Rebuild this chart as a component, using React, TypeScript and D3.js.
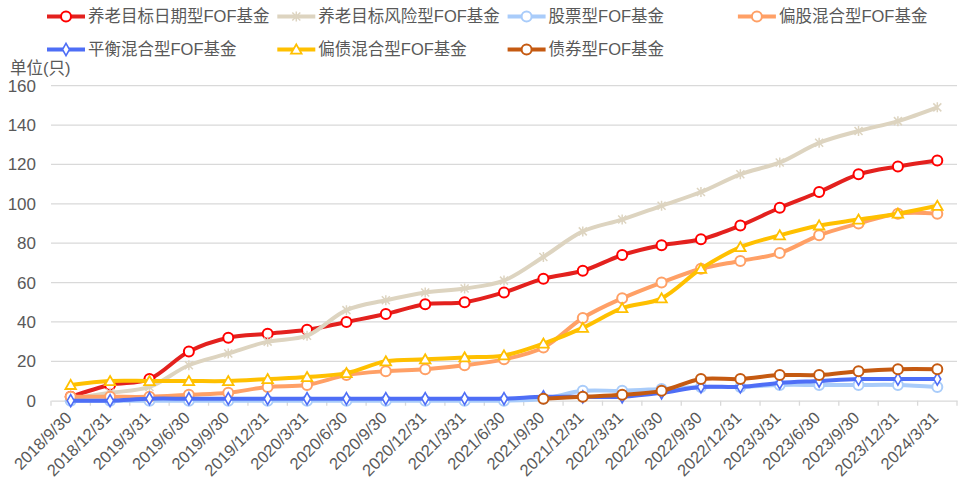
import React, { useEffect, useRef } from "react";
import * as d3 from "d3";

// quarter ends
const dates = [
  "2018/9/30", "2018/12/31", "2019/3/31", "2019/6/30", "2019/9/30", "2019/12/31",
  "2020/3/31", "2020/6/30", "2020/9/30", "2020/12/31", "2021/3/31", "2021/6/30",
  "2021/9/30", "2021/12/31", "2022/3/31", "2022/6/30", "2022/9/30", "2022/12/31",
  "2023/3/31", "2023/6/30", "2023/9/30", "2023/12/31", "2024/3/31",
];

const targetDate = [2, 8, 11, 25, 32, 34, 36, 40, 44, 49, 50, 55, 62, 66, 74, 79, 82, 89, 98, 106, 115, 119, 122];
const targetRisk = [1, 4, 7, 18, 24, 30, 33, 46, 51, 55, 57, 61, 73, 86, 92, 99, 106, 115, 121, 131, 137, 142, 149];
const stockFof = [0, 0, 0, 0, 0, 0, 0, 0, 0, 0, 0, 0, 1, 5, 5, 6, 7, 7, 8, 8, 8, 8, 7];
const equityMixed = [2, 2, 2, 3, 4, 7, 8, 13, 15, 16, 18, 21, 27, 42, 52, 60, 67, 71, 75, 84, 90, 95, 95];
const balancedMixed = [0, 0, 1, 1, 1, 1, 1, 1, 1, 1, 1, 1, 2, 2, 2, 4, 7, 7, 9, 10, 11, 11, 11];
const bondMixed = [8, 10, 10, 10, 10, 11, 12, 14, 20, 21, 22, 23, 29, 37, 47, 52, 67, 78, 84, 89, 92, 95, 99];
const bondFof = [null, null, null, null, null, null, null, null, null, null, null, null, 1, 2, 3, 5, 11, 11, 13, 13, 15, 16, 16];

const yTicks = [0, 20, 40, 60, 80, 100, 120, 140, 160];

const series = [
  { name: "养老目标日期型FOF基金", values: targetDate, color: "#E3211E", mark: "#FF0000", shape: "circle" },
  { name: "养老目标风险型FOF基金", values: targetRisk, color: "#DDD4C0", mark: "#DDD4C0", shape: "star" },
  { name: "股票型FOF基金", values: stockFof, color: "#A9CCFA", mark: "#A9CCFA", shape: "circle" },
  { name: "偏股混合型FOF基金", values: equityMixed, color: "#FFA066", mark: "#FFA066", shape: "circle" },
  { name: "平衡混合型FOF基金", values: balancedMixed, color: "#4E6EF6", mark: "#4E6EF6", shape: "diamond" },
  { name: "偏债混合型FOF基金", values: bondMixed, color: "#FFC000", mark: "#FFC000", shape: "triangle" },
  { name: "债券型FOF基金", values: bondFof, color: "#C55A11", mark: "#C55A11", shape: "circle" },
];

const FONT = "'Liberation Sans', Arial, 'Noto Sans CJK SC', sans-serif";

const drawMarker = (g, shape, x, y, color) => {
  if (shape === "circle") {
    g.append("circle").attr("cx", x).attr("cy", y).attr("r", 5)
      .attr("fill", "#fff").attr("stroke", color).attr("stroke-width", 2);
  } else if (shape === "star") {
    g.append("path")
      .attr("d", "M-4,-4L4,4M-4,4L4,-4M0,-5L0,5")
      .attr("transform", `translate(${x},${y})`)
      .attr("fill", "none").attr("stroke", color).attr("stroke-width", 1.5);
  } else if (shape === "diamond") {
    g.append("path")
      .attr("d", d3.symbol(d3.symbolDiamond, 42)())
      .attr("transform", `translate(${x},${y})`)
      .attr("fill", "#fff").attr("stroke", color).attr("stroke-width", 1.6);
  } else if (shape === "triangle") {
    g.append("path")
      .attr("d", d3.symbol(d3.symbolTriangle, 48)())
      .attr("transform", `translate(${x},${y + 1})`)
      .attr("fill", "#fff").attr("stroke", color).attr("stroke-width", 1.8);
  }
};

const App = () => {
  const svgRef = useRef(null);

  useEffect(() => {
    const svg = d3.select(svgRef.current);
    svg.selectAll("*").remove();

    const left = 51, right = 957, top = 85.7, bottom = 400.7;

    const xScale = d3.scaleBand().domain(dates).range([left, right]).padding(0);
    const cx = (d) => xScale(d) + xScale.bandwidth() / 2;
    const yScale = d3.scaleLinear().domain([0, 160]).range([bottom, top]);

    // grid
    svg.append("g")
      .selectAll("line")
      .data(yTicks.filter((t) => t > 0))
      .join("line")
      .attr("x1", left).attr("x2", right)
      .attr("y1", (t) => yScale(t)).attr("y2", (t) => yScale(t))
      .attr("stroke", "#D9D9D9").attr("stroke-width", 1.3);

    // y labels
    svg.append("g")
      .selectAll("text")
      .data(yTicks)
      .join("text")
      .attr("x", 36).attr("y", (t) => yScale(t))
      .attr("dy", "0.35em")
      .attr("text-anchor", "end")
      .attr("font-family", FONT).attr("font-size", 17).attr("fill", "#595959")
      .text((t) => t);

    svg.append("text")
      .attr("x", 10).attr("y", 74)
      .attr("font-family", FONT).attr("font-size", 16.5).attr("fill", "#595959")
      .text("单位(只)");

    // x axis
    const xAxis = d3.axisBottom(xScale).tickSize(0).tickFormat("");
    const ax = svg.append("g").attr("transform", `translate(0,${bottom})`).call(xAxis);
    ax.select(".domain").attr("stroke", "#D9D9D9").attr("stroke-width", 1.3);

    svg.append("g")
      .selectAll("line")
      .data(d3.range(dates.length + 1))
      .join("line")
      .attr("x1", (i) => left + i * xScale.step()).attr("x2", (i) => left + i * xScale.step())
      .attr("y1", bottom).attr("y2", bottom + 5)
      .attr("stroke", "#D9D9D9").attr("stroke-width", 1.3);

    svg.append("g")
      .selectAll("text")
      .data(dates)
      .join("text")
      .attr("transform", (d) => `translate(${cx(d) - 2},${bottom + 14}) rotate(-45)`)
      .attr("text-anchor", "end")
      .attr("dy", "0.35em")
      .attr("font-family", FONT).attr("font-size", 16.5).attr("fill", "#595959")
      .text((d) => d);

    // lines
    const line = d3.line()
      .defined((d) => d[1] != null)
      .x((d) => cx(d[0]))
      .y((d) => yScale(d[1]))
      .curve(d3.curveCatmullRom.alpha(0.5));

    series.forEach((s) => {
      const pts = dates.map((d, i) => [d, s.values[i]]);
      const g = svg.append("g");
      g.append("path")
        .attr("d", line(pts))
        .attr("fill", "none")
        .attr("stroke", s.color)
        .attr("stroke-width", 4)
        .attr("stroke-linejoin", "round");
      pts.filter((p) => p[1] != null).forEach((p) => drawMarker(g, s.shape, cx(p[0]), yScale(p[1]), s.mark));
    });

    // legend
    const legend = svg.append("g");
    series.forEach((s, i) => {
      const col = i < 4 ? i : i - 4;
      const row = i < 4 ? 0 : 1;
      const x0 = 47 + col * 230.3;
      const y0 = 16.5 + row * 33;
      const g = legend.append("g");
      g.append("line").attr("x1", x0).attr("x2", x0 + 38).attr("y1", y0).attr("y2", y0)
        .attr("stroke", s.color).attr("stroke-width", 4);
      drawMarker(g, s.shape, x0 + 19, y0, s.mark);
      g.append("text").attr("x", x0 + 41).attr("y", y0).attr("dy", "0.36em")
        .attr("font-family", FONT).attr("font-size", 16.5).attr("fill", "#595959")
        .text(s.name);
    });
  }, []);

  return (
    <svg
      ref={svgRef}
      width={964}
      height={483}
      style={{ position: "absolute", left: 0, top: 0, background: "#fff" }}
    />
  );
};

export default App;
